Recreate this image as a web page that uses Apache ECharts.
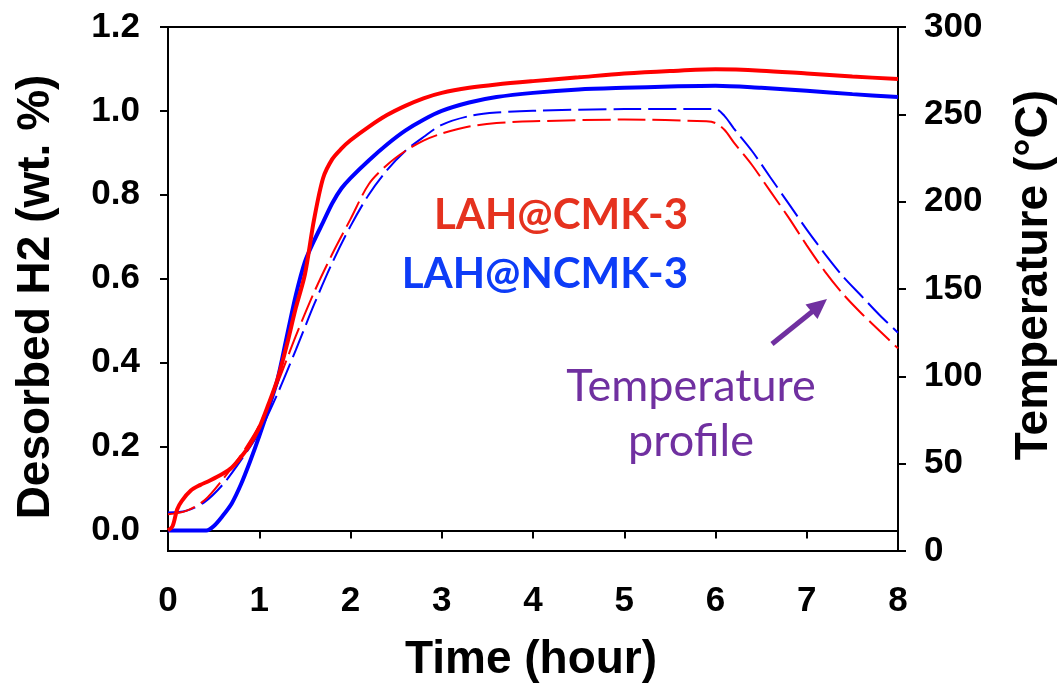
<!DOCTYPE html>
<html>
<head>
<meta charset="utf-8">
<script src="https://cdn.jsdelivr.net/npm/echarts@6/dist/echarts.min.js"></script>
<style>
html,body{margin:0;padding:0;background:#fff;}
#chart{width:1062px;height:690px;}
</style>
</head>
<body>
<div id="chart"></div>
<script>
// ---- Data ----
// Desorbed H2 (wt. %), left axis
const cmkTime = [0, 0.05, 0.1, 0.15, 0.25, 0.35, 0.45, 0.6, 0.7, 0.8, 0.9, 1.0, 1.1, 1.2, 1.3, 1.4, 1.5, 1.6, 1.7, 1.8, 1.9, 2.0, 2.2, 2.4, 2.6, 2.8, 3.0, 3.3, 3.6, 4.0, 4.5, 5.0, 5.5, 6.0, 6.5, 7.0, 7.5, 8.0];
const cmkH2   = [0, 0.01, 0.05, 0.07, 0.095, 0.108, 0.118, 0.135, 0.15, 0.175, 0.205, 0.245, 0.3, 0.36, 0.44, 0.53, 0.61, 0.74, 0.84, 0.885, 0.91, 0.93, 0.962, 0.99, 1.012, 1.03, 1.043, 1.055, 1.063, 1.071, 1.08, 1.089, 1.095, 1.099, 1.096, 1.089, 1.082, 1.076];
const ncmkTime = [0, 0.42, 0.5, 0.6, 0.7, 0.8, 0.9, 1.0, 1.1, 1.2, 1.3, 1.4, 1.5, 1.6, 1.7, 1.8, 1.9, 2.0, 2.2, 2.4, 2.6, 2.8, 3.0, 3.3, 3.6, 4.0, 4.5, 5.0, 5.5, 6.0, 6.5, 7.0, 7.5, 8.0];
const ncmkH2   = [0, 0, 0.01, 0.035, 0.065, 0.11, 0.165, 0.225, 0.29, 0.36, 0.46, 0.56, 0.64, 0.69, 0.735, 0.78, 0.815, 0.84, 0.882, 0.92, 0.953, 0.979, 1.0, 1.02, 1.033, 1.043, 1.051, 1.055, 1.058, 1.06, 1.055, 1.048, 1.04, 1.033];
// Temperature profile (°C), right axis
const tempTime = [0, 0.2, 0.4, 0.6, 0.8, 1.0, 1.2, 1.4, 1.6, 1.8, 2.0, 2.2, 2.4, 2.6, 2.8, 3.0, 3.3, 3.6, 4.0, 5.0, 5.9, 6.0, 6.1, 6.2, 6.4, 6.6, 6.8, 7.0, 7.2, 7.4, 7.6, 7.8, 8.0];
const cmkTemp  = [21, 23, 29, 41, 55, 72, 96, 123, 148, 170, 190, 210, 221, 229, 235, 239, 243, 245, 246, 247, 246, 245, 241, 234, 221, 206, 191, 175, 160, 147, 136, 126, 116];
const ncmkTemp = [22, 23, 28, 38, 52, 68, 90, 115, 141, 165, 186, 204, 218, 229, 237, 244, 249, 251, 252, 253, 253, 253, 249, 242, 229, 214, 199, 184, 170, 157, 146, 135, 125];
// Axis ticks
const xTicks = [0, 1, 2, 3, 4, 5, 6, 7, 8];
const leftTicks = [0, 0.2, 0.4, 0.6, 0.8, 1.0, 1.2];
const rightTicks = [0, 50, 100, 150, 200, 250, 300];

const zip = (a, b) => a.map((v, i) => [v, b[i]]);

const chart = echarts.init(document.getElementById('chart'));
const tickFont = {fontFamily: 'Liberation Sans', fontWeight: 'bold', fontSize: 35, color: '#000'};
const axisLine = {show: true, lineStyle: {color: '#000', width: 2}};
const axisTick = {show: true, inside: false, length: 8, lineStyle: {color: '#000', width: 2}};

const option = {
  backgroundColor: '#fff',
  animation: false,
  grid: {left: 168, right: 164, top: 27, bottom: 139, show: true, borderColor: '#000', borderWidth: 2, backgroundColor: 'transparent'},
  xAxis: {
    type: 'value', min: 0, max: 8, interval: 1,
    axisLine: axisLine, axisTick: axisTick, splitLine: {show: false},
    axisLabel: Object.assign({margin: 33, formatter: v => String(v)}, tickFont)
  },
  yAxis: [
    {
      type: 'value', position: 'left', min: -0.049, max: 1.2,
      axisLine: axisLine, splitLine: {show: false},
      axisTick: Object.assign({customValues: leftTicks}, axisTick),
      axisLabel: Object.assign({margin: 28, customValues: leftTicks, formatter: v => v.toFixed(1)}, tickFont)
    },
    {
      type: 'value', position: 'right', min: 0, max: 300, interval: 50,
      axisLine: axisLine, splitLine: {show: false},
      axisTick: axisTick,
      axisLabel: Object.assign({margin: 26, formatter: v => String(v)}, tickFont)
    }
  ],
  series: [
    {name: 'LAH@NCMK-3 temperature', type: 'line', yAxisIndex: 1, data: zip(tempTime, ncmkTemp), showSymbol: false, smooth: 0.3,
     lineStyle: {color: '#0000ff', width: 2, type: [28, 7]}, z: 2},
    {name: 'LAH@CMK-3 temperature', type: 'line', yAxisIndex: 1, data: zip(tempTime, cmkTemp), showSymbol: false, smooth: 0.3,
     lineStyle: {color: '#ff0000', width: 2, type: [28, 7]}, z: 2},
    {name: 'LAH@NCMK-3', type: 'line', yAxisIndex: 0, data: zip(ncmkTime, ncmkH2), showSymbol: false, smooth: 0.3,
     lineStyle: {color: '#0000ff', width: 4}, z: 3},
    {name: 'LAH@CMK-3', type: 'line', yAxisIndex: 0, data: zip(cmkTime, cmkH2), showSymbol: false, smooth: 0.3,
     lineStyle: {color: '#ff0000', width: 4}, z: 4}
  ],
  graphic: [
    {type: 'text', x: 36, y: 297, rotation: Math.PI / 2,
     style: {text: 'Desorbed H2 (wt. %)', fontFamily: 'Liberation Sans', fontWeight: 'bold', fontSize: 46, fill: '#000', align: 'center', verticalAlign: 'middle'}},
    {type: 'text', x: 1034, y: 275, rotation: Math.PI / 2,
     style: {text: 'Temperature (°C)', fontFamily: 'Liberation Sans', fontWeight: 'bold', fontSize: 46, fill: '#000', align: 'center', verticalAlign: 'middle'}},
    {type: 'text', x: 531, y: 660,
     style: {text: 'Time (hour)', fontFamily: 'Liberation Sans', fontWeight: 'bold', fontSize: 46, fill: '#000', align: 'center', verticalAlign: 'middle'}},
    {type: 'text', x: 688, y: 215,
     style: {text: 'LAH@CMK-3', fontFamily: 'Lato', fontWeight: 'bold', fontSize: 42, fill: '#e5321f', align: 'right', verticalAlign: 'middle'}},
    {type: 'text', x: 688, y: 274,
     style: {text: 'LAH@NCMK-3', fontFamily: 'Lato', fontWeight: 'bold', fontSize: 42, fill: '#0d3cf7', align: 'right', verticalAlign: 'middle'}},
    {type: 'text', x: 691, y: 386,
     style: {text: 'Temperature', fontFamily: 'Lato', fontSize: 45, fill: '#7030a0', align: 'center', verticalAlign: 'middle'}},
    {type: 'text', x: 691, y: 441,
     style: {text: 'profile', fontFamily: 'Lato', fontSize: 45, fill: '#7030a0', align: 'center', verticalAlign: 'middle'}},
    {type: 'line', shape: {x1: 772, y1: 344, x2: 813, y2: 311}, style: {stroke: '#7030a0', lineWidth: 5}},
    {type: 'polygon', shape: {points: [[827, 299], [817.5, 319], [805.5, 304.5]]}, style: {fill: '#7030a0'}}
  ]
};
chart.setOption(option);
</script>
</body>
</html>
